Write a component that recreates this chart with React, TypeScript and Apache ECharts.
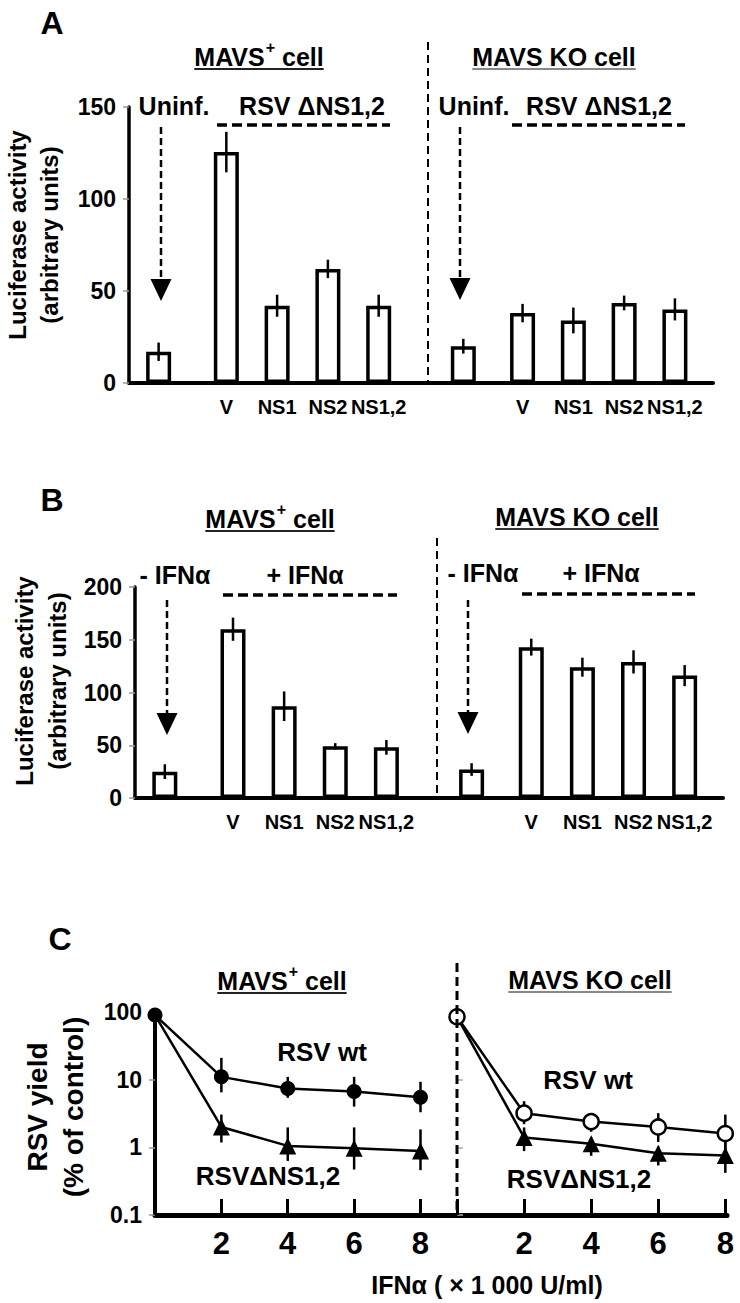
import React, { useEffect, useRef } from "react";
import * as echarts from "echarts";

const FONT = "'Liberation Sans', Arial, Helvetica, sans-serif";

// ---------- Panels A & B (bar charts) ----------
const barLabels = ["", "V", "NS1", "NS2", "NS1,2", "", "V", "NS1", "NS2", "NS1,2"];
// slot of each bar on a fine category axis (spacer slots keep the original spacing)
const slotIndex = [3, 11, 17, 23, 29, 39, 46, 52, 58, 64];
const slotCount = 69;

const aMeans = [17, 125.5, 42, 62, 42, 20, 38, 34, 43.5, 40];
const aErr = [5, 11, 6, 5, 6, 4, 5, 7, 4, 6];
const aTicks = [0, 50, 100, 150];

const bMeans = [25, 160, 87, 49, 48, 27, 143, 124, 129, 116];
const bErr = [7, 11, 14, 3, 7, 6, 8, 9, 11, 10];
const bTicks = [0, 50, 100, 150, 200];

// ---------- Panel C (log line chart) ----------
const doses = [0, 2, 4, 6, 8];
const doseTicks = [2, 4, 6, 8];
const cPlusWt = [90, 11, 7.4, 6.7, 5.5];
const cPlusWtLo = [null, 6.5, 5.4, 4, 3.3];
const cPlusWtHi = [null, 21, 11, 11, 9.3];
const cPlusDel = [90, 2.0, 1.05, 0.97, 0.88];
const cPlusDelLo = [null, 1.18, 0.63, 0.47, 0.46];
const cPlusDelHi = [null, 3.05, 1.97, 1.97, 1.84];
const cKoWt = [85, 3.2, 2.4, 2.0, 1.6];
const cKoWtLo = [null, 2.2, 1.7, 1.2, 0.88];
const cKoWtHi = [null, 4.8, 3.05, 3.2, 3.05];
const cKoDel = [85, 1.4, 1.13, 0.82, 0.76];
const cKoDelLo = [null, 0.88, 0.75, 0.54, 0.42];
const cKoDelHi = [null, 1.97, 1.4, 1.03, 1.22];
const cTicks = [0.1, 1, 10, 100];

function measure(text: string, size: number) {
  const c = document.createElement("canvas").getContext("2d")!;
  c.font = `bold ${size}px ${FONT}`;
  return c.measureText(text).width;
}

function txt(x: number, y: number, text: string, size: number, extra: any = {}) {
  return {
    type: "text",
    x,
    y,
    z: 100,
    style: {
      text,
      fontSize: size,
      fontWeight: "bold",
      fontFamily: FONT,
      fill: "#000",
      align: "center",
      verticalAlign: "middle",
      ...extra,
    },
  };
}

function header(cx: number, cy: number, sup: boolean, lineColor: string) {
  const size = 25;
  const supSize = 16;
  const els: any[] = [];
  let total: number;
  let left: number;
  if (sup) {
    const w1 = measure("MAVS", size);
    const w2 = measure("+", supSize);
    const w3 = measure(" cell", size);
    total = w1 + w2 + w3 + 1;
    left = cx - total / 2;
    els.push(txt(left, cy, "MAVS", size, { align: "left" }));
    els.push(txt(left + w1 + 1, cy - 10, "+", supSize, { align: "left" }));
    els.push(txt(left + w1 + w2 + 1, cy, " cell", size, { align: "left" }));
  } else {
    total = measure("MAVS KO cell", size);
    left = cx - total / 2;
    els.push(txt(left, cy, "MAVS KO cell", size, { align: "left" }));
  }
  els.push({
    type: "line",
    z: 100,
    shape: { x1: left, y1: cy + 12, x2: left + total, y2: cy + 12 },
    style: { stroke: lineColor, lineWidth: 2 },
  });
  return els;
}

function dline(x1: number, y1: number, x2: number, y2: number, w: number, dash: number[]) {
  return {
    type: "line",
    z: 100,
    shape: { x1, y1, x2, y2 },
    style: { stroke: "#000", lineWidth: w, lineDash: dash },
  };
}

function arrow(x: number, y1: number, tip: number) {
  const hh = 22;
  const hw = 21;
  return [
    dline(x, y1, x, tip - hh, 2.5, [7, 4]),
    {
      type: "polygon",
      z: 100,
      shape: { points: [[x - hw / 2, tip - hh], [x + hw / 2, tip - hh], [x, tip]] },
      style: { fill: "#000" },
    },
  ];
}

function yName(x1: number, x2: number, y: number, l1: string, l2: string, size: number) {
  return [
    { ...txt(x1, y, l1, size), rotation: Math.PI / 2 },
    { ...txt(x2, y, l2, size), rotation: Math.PI / 2 },
  ];
}

const categories = Array.from({ length: slotCount }, (_, i) => {
  const k = slotIndex.indexOf(i);
  return k >= 0 ? barLabels[k] : "";
});

function barData(means: number[]) {
  return categories.map((_, i) => {
    const k = slotIndex.indexOf(i);
    return k >= 0 ? means[k] : null;
  });
}

function errData(means: number[], err: number[]) {
  return slotIndex.map((s, k) => [s, means[k] - err[k], means[k] + err[k]]);
}

function errRender(width: number) {
  return (params: any, api: any) => {
    const x = api.value(0);
    const lo = api.coord([x, api.value(1)]);
    const hi = api.coord([x, api.value(2)]);
    return {
      type: "line",
      shape: { x1: lo[0], y1: lo[1], x2: hi[0], y2: hi[1] },
      style: { stroke: "#000", lineWidth: width },
    };
  };
}

function cErrData(lo: (number | null)[], hi: (number | null)[]) {
  const out: any[] = [];
  doses.forEach((d, i) => {
    if (lo[i] != null && hi[i] != null) out.push([d, lo[i], hi[i]]);
  });
  return out;
}

function barAxes(gridIndex: number, ticks: number[]) {
  const x = {
    gridIndex,
    type: "category",
    data: categories,
    boundaryGap: true,
    axisLine: { show: true, lineStyle: { color: "#000", width: 4 } },
    axisTick: { show: false },
    axisLabel: { interval: 0, fontSize: 20, fontWeight: "bold", color: "#000", margin: 14, fontFamily: FONT },
    splitLine: { show: false },
  };
  const y = {
    gridIndex,
    type: "value",
    min: ticks[0],
    max: ticks[ticks.length - 1],
    interval: ticks[1] - ticks[0],
    axisLine: { show: true, lineStyle: { color: "#000", width: 3.5 } },
    axisTick: { show: true, length: 6, lineStyle: { color: "#999", width: 1.5 } },
    axisLabel: { fontSize: 23, fontWeight: "bold", color: "#000", margin: 13, fontFamily: FONT },
    splitLine: { show: false },
  };
  return { x, y };
}

function buildOption() {
  const A = barAxes(0, aTicks);
  const B = barAxes(1, bTicks);
  const logFmt = (v: number) => String(+Number(v).toPrecision(3));
  const cxLeft = {
    gridIndex: 2,
    type: "value",
    min: 0,
    max: 9.1,
    interval: doseTicks[1] - doseTicks[0],
    axisLine: { show: true, lineStyle: { color: "#000", width: 5 } },
    axisTick: { show: true, inside: true, length: 16, lineStyle: { color: "#000", width: 3 } },
    axisLabel: {
      fontSize: 31,
      fontWeight: "bold",
      color: "#000",
      margin: 13,
      fontFamily: FONT,
      showMaxLabel: false,
      formatter: (v: number) => (doseTicks.indexOf(v) >= 0 ? String(v) : ""),
    },
    splitLine: { show: false },
  };
  const cxRight = { ...cxLeft, gridIndex: 3, max: 8.05 };
  const cyLeft = {
    gridIndex: 2,
    type: "log",
    logBase: 10,
    min: cTicks[0],
    max: cTicks[cTicks.length - 1],
    axisLine: { show: true, lineStyle: { color: "#000", width: 4 } },
    axisTick: { show: true, length: 6, lineStyle: { color: "#999", width: 1.5 } },
    axisLabel: { fontSize: 23, fontWeight: "bold", color: "#000", margin: 13, fontFamily: FONT, formatter: logFmt },
    splitLine: { show: false },
  };
  const cyRight = {
    ...cyLeft,
    gridIndex: 3,
    axisLine: { show: false },
    axisTick: { show: true, inside: true, length: 6, lineStyle: { color: "#aaa", width: 1.5 } },
    axisLabel: { show: false },
  };

  const lineBase = {
    type: "line",
    lineStyle: { color: "#000", width: 2.5 },
    z: 5,
  };
  const filled = { symbol: "circle", symbolSize: 15, itemStyle: { color: "#000" } };
  const open = { symbol: "circle", symbolSize: 15, itemStyle: { color: "#fff", borderColor: "#000", borderWidth: 2.5 } };
  const tri = { symbol: "triangle", symbolSize: 17, itemStyle: { color: "#000" } };

  const triData = (vals: number[]) =>
    doses.map((d, i) => (i === 0 ? { value: [d, vals[i]], symbol: "none" } : [d, vals[i]]));

  const graphic: any[] = [
    // panel letters
    txt(52, 23, "A", 32),
    txt(52, 500, "B", 32),
    txt(60, 939, "C", 32),
    // Panel A annotations
    ...header(259, 57, true, "#222"),
    ...header(554, 57, false, "#888"),
    txt(174, 106, "Uninf.", 25),
    txt(312, 106, "RSV ΔNS1,2", 25),
    txt(474, 106, "Uninf.", 25),
    txt(599, 106, "RSV ΔNS1,2", 25),
    dline(217, 125, 390, 125, 3.5, [10, 5]),
    dline(512, 125, 685, 125, 3.5, [10, 5]),
    ...arrow(161, 127, 301),
    ...arrow(460, 127, 300),
    dline(428, 42, 428, 383, 2, [8, 5]),
    ...yName(17, 49, 235, "Luciferase activity", "(arbitrary units)", 24),
    // Panel B annotations
    ...header(270, 519, true, "#222"),
    ...header(577, 517, false, "#333"),
    txt(175, 575, "- IFNα", 25),
    txt(305, 575, "+ IFNα", 25),
    txt(483, 573, "- IFNα", 25),
    txt(601, 573, "+ IFNα", 25),
    dline(223, 595, 397, 595, 3.5, [10, 5]),
    dline(522, 594, 695, 594, 3.5, [10, 5]),
    ...arrow(167, 600, 735),
    ...arrow(468, 600, 734),
    dline(437, 538, 437, 798, 2, [8, 5]),
    ...yName(24, 57, 681, "Luciferase activity", "(arbitrary units)", 24),
    // Panel C annotations
    ...header(282, 981, true, "#222"),
    ...header(590, 980, false, "#888"),
    txt(322, 1052, "RSV wt", 26),
    txt(268, 1176, "RSVΔNS1,2", 26),
    txt(588, 1080, "RSV wt", 26),
    txt(579, 1179, "RSVΔNS1,2", 26),
    dline(457, 963, 457, 1215, 3, [9, 5]),
    ...yName(37, 73, 1107, "RSV yield", "(% of control)", 28),
    txt(487, 1285, "IFNα ( × 1 000 U/ml)", 25),
  ];

  return {
    animation: false,
    backgroundColor: "#fff",
    grid: [
      { left: 129, top: 107, width: 584, height: 276 },
      { left: 135, top: 587, width: 588, height: 211 },
      { left: 155, top: 1012, width: 302, height: 203 },
      { left: 457, top: 1012, width: 270, height: 203 },
    ],
    xAxis: [A.x, B.x, cxLeft, cxRight],
    yAxis: [A.y, B.y, cyLeft, cyRight],
    series: [
      {
        type: "bar",
        xAxisIndex: 0,
        yAxisIndex: 0,
        data: barData(aMeans),
        barWidth: 25,
        itemStyle: { color: "#fff", borderColor: "#000", borderWidth: 3.5 },
        z: 2,
      },
      {
        type: "custom",
        xAxisIndex: 0,
        yAxisIndex: 0,
        data: errData(aMeans, aErr),
        encode: { x: 0, y: [1, 2] },
        renderItem: errRender(2.5),
        z: 3,
      },
      {
        type: "bar",
        xAxisIndex: 1,
        yAxisIndex: 1,
        data: barData(bMeans),
        barWidth: 25,
        itemStyle: { color: "#fff", borderColor: "#000", borderWidth: 3.5 },
        z: 2,
      },
      {
        type: "custom",
        xAxisIndex: 1,
        yAxisIndex: 1,
        data: errData(bMeans, bErr),
        encode: { x: 0, y: [1, 2] },
        renderItem: errRender(2.5),
        z: 3,
      },
      // Panel C left (MAVS+)
      {
        type: "custom",
        xAxisIndex: 2,
        yAxisIndex: 2,
        data: [...cErrData(cPlusWtLo, cPlusWtHi), ...cErrData(cPlusDelLo, cPlusDelHi)],
        encode: { x: 0, y: [1, 2] },
        renderItem: errRender(2.5),
        z: 3,
      },
      { ...lineBase, ...tri, xAxisIndex: 2, yAxisIndex: 2, data: triData(cPlusDel) },
      { ...lineBase, ...filled, xAxisIndex: 2, yAxisIndex: 2, data: doses.map((d, i) => [d, cPlusWt[i]]) },
      // Panel C right (MAVS KO)
      {
        type: "custom",
        xAxisIndex: 3,
        yAxisIndex: 3,
        data: [...cErrData(cKoWtLo, cKoWtHi), ...cErrData(cKoDelLo, cKoDelHi)],
        encode: { x: 0, y: [1, 2] },
        renderItem: errRender(2.5),
        z: 3,
      },
      { ...lineBase, ...tri, xAxisIndex: 3, yAxisIndex: 3, data: triData(cKoDel) },
      { ...lineBase, ...open, xAxisIndex: 3, yAxisIndex: 3, data: doses.map((d, i) => [d, cKoWt[i]]) },
    ],
    graphic,
  };
}

export default function App() {
  const ref = useRef<HTMLDivElement>(null);
  useEffect(() => {
    if (!ref.current) return;
    const chart = echarts.init(ref.current, null, { renderer: "svg" });
    chart.setOption(buildOption() as any);
    return () => chart.dispose();
  }, []);
  return (
    <div
      ref={ref}
      style={{ position: "absolute", left: 0, top: 0, width: 740, height: 1303, background: "#fff" }}
    />
  );
}
